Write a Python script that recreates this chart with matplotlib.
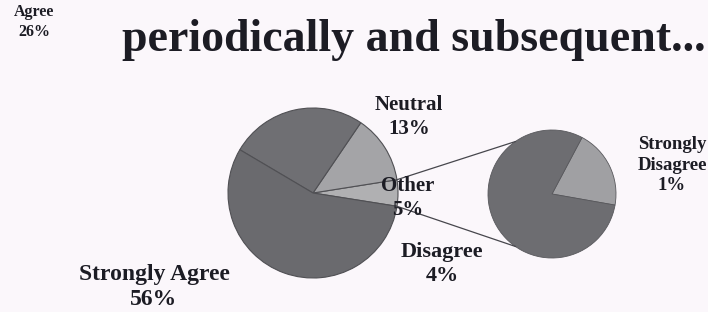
import numpy as np
import matplotlib
matplotlib.use("Agg")
import matplotlib.pyplot as plt

# data
main_labels = ["Other", "Neutral", "Agree", "Strongly Agree"]
main_values = [5, 13, 26, 56]
other_labels = ["Strongly\nDisagree", "Disagree"]
other_values = [1, 4]
title = "periodically and subsequent..."

W, H = 708, 312
BG = "#fbf7fb"
TXT = "#1c1c24"

plt.rcParams['font.family'] = ['Liberation Serif', 'DejaVu Serif']
fig = plt.figure(figsize=(W / 100, H / 100), dpi=100, facecolor=BG)
ax = fig.add_axes([0, 0, 1, 1])
ax.set_facecolor(BG)

# main pie (y measured upward in pixels)
c1, r1 = (313, H - 193), 85
main_colors = ["#b0b0b2", "#a4a4a7", "#6f6f73", "#6a6a6e"]
w1, _ = ax.pie(main_values, colors=main_colors, startangle=-9, counterclock=True,
               center=c1, radius=r1, frame=True,
               wedgeprops=dict(edgecolor="#505054", linewidth=0.8))

# secondary pie for "Other"
c2, r2 = (552, H - 194), 64
w2, _ = ax.pie(other_values, colors=["#a0a0a3", "#6d6d71"], startangle=-10,
               center=c2, radius=r2, frame=True,
               wedgeprops=dict(edgecolor="#58585c", linewidth=0.6))

# connector lines from the edges of the "Other" wedge
other = w1[0]
for th1, th2 in [(other.theta2, 125), (other.theta1, -125)]:
    x0 = c1[0] + r1 * np.cos(np.radians(th1))
    y0 = c1[1] + r1 * np.sin(np.radians(th1))
    x1 = c2[0] + r2 * np.cos(np.radians(th2))
    y1 = c2[1] + r2 * np.sin(np.radians(th2))
    ax.plot([x0, x1], [y0, y1], color="#46464c", lw=0.9)

ax.set_xlim(0, W)
ax.set_ylim(0, H)
ax.set_aspect('equal')
ax.axis('off')

lab = dict(ha='center', va='center', color=TXT, fontweight='bold', fontsize=15,
           linespacing=1.25)
pct = lambda v: "%d%%" % v
ax.text(409, H - 117, "Neutral\n" + pct(main_values[1]), **lab)
ax.text(408, H - 198, "Other\n" + pct(main_values[0]), **lab)
ax.text(442, H - 264, "Disagree\n" + pct(other_values[1]), **dict(lab, fontsize=16))
ax.text(672, H - 165, other_labels[0] + "\n" + pct(other_values[0]),
        **dict(lab, fontsize=13.5, linespacing=1.3))
ax.text(154, H - 287, main_labels[3] + "\n" + pct(main_values[3]),
        **dict(lab, fontsize=17, linespacing=1.2))
ax.text(34, H - 22, "Agree\n" + pct(main_values[2]),
        **dict(lab, fontsize=11.5))

ax.text(706, H - 40, title, ha='right', va='center', color=TXT,
        fontweight='bold', fontsize=33)

fig.savefig("out.png", dpi=100, facecolor=BG)
